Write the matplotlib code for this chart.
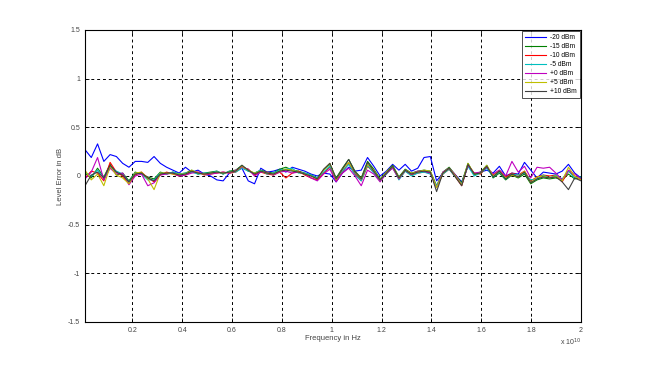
import numpy as np
import matplotlib
matplotlib.use("Agg")
import matplotlib.pyplot as plt
from matplotlib.ticker import FuncFormatter, MultipleLocator

plt.rcParams['font.family'] = ['Liberation Sans', 'DejaVu Sans']

# === Data: level error (dB) vs frequency ===
freq = np.linspace(0.01e10, 2.0e10, 80)

labels = ["-20 dBm", "-15 dBm", "-10 dBm", "-5 dBm", "+0 dBm", "+5 dBm", "+10 dBm"]

err_m20 = [0.27, 0.19, 0.33, 0.15, 0.22, 0.20, 0.13, 0.09, 0.15, 0.15,
           0.14, 0.20, 0.13, 0.09, 0.06, 0.03, 0.09, 0.04, 0.06, 0.02,
           0.00, -0.04, -0.05, 0.03, 0.05, 0.08, -0.05, -0.08, 0.08, 0.04,
           0.05, 0.07, 0.04, 0.09, 0.07, 0.05, 0.02, 0.00, 0.03, 0.02,
           -0.06, 0.03, 0.09, 0.05, 0.06, 0.19, 0.10, 0.00, 0.05, 0.12,
           0.06, 0.12, 0.05, 0.08, 0.19, 0.20, -0.05, 0.03, 0.08, 0.01,
           -0.06, 0.10, 0.02, 0.04, 0.06, 0.03, 0.10, 0.00, 0.03, 0.02,
           0.14, 0.06, -0.02, 0.04, 0.03, 0.02, 0.05, 0.12, 0.03, -0.02]

err_m15 = [0.03, -0.02, 0.08, -0.01, 0.12, 0.01, 0.03, -0.05, 0.04, 0.02,
           -0.01, -0.03, 0.04, 0.02, 0.04, 0.02, 0.03, 0.06, 0.02, 0.03,
           0.04, 0.05, 0.02, 0.05, 0.06, 0.11, 0.05, 0.03, 0.06, 0.04,
           0.03, 0.07, 0.09, 0.06, 0.05, 0.03, 0.01, -0.02, 0.06, 0.12,
           -0.02, 0.08, 0.17, 0.05, -0.02, 0.15, 0.07, -0.03, 0.04, 0.11,
           -0.01, 0.07, 0.03, 0.05, 0.06, 0.05, -0.10, 0.04, 0.09, 0.01,
           -0.07, 0.13, 0.01, 0.04, 0.11, -0.02, 0.03, -0.04, 0.01, -0.02,
           0.02, -0.08, -0.04, -0.02, -0.03, -0.02, -0.04, 0.02, -0.03, -0.02]

err_m10 = [-0.02, 0.05, 0.03, -0.05, 0.14, 0.04, 0.00, -0.08, 0.01, 0.04,
           -0.02, -0.06, 0.01, 0.04, 0.02, 0.00, 0.01, 0.04, 0.04, 0.01,
           0.02, 0.03, 0.04, 0.03, 0.04, 0.09, 0.07, 0.01, 0.04, 0.02,
           0.01, 0.04, -0.02, 0.03, 0.05, 0.01, -0.02, -0.04, 0.03, 0.09,
           -0.05, 0.04, 0.13, 0.02, -0.05, 0.10, 0.04, -0.05, 0.02, 0.09,
           -0.03, 0.05, 0.01, 0.03, 0.04, 0.03, -0.11, 0.02, 0.07, -0.01,
           -0.10, 0.11, 0.03, 0.02, 0.09, 0.01, 0.06, -0.01, 0.03, 0.01,
           0.05, -0.05, -0.01, 0.01, 0.00, 0.01, -0.06, 0.05, 0.00, -0.04]

err_m5 = [0.04, 0.00, 0.06, -0.02, 0.09, 0.05, 0.02, -0.06, 0.03, 0.02,
          -0.04, -0.04, 0.03, 0.02, 0.04, 0.02, 0.03, 0.04, 0.02, 0.03,
          0.03, 0.05, 0.02, 0.05, 0.04, 0.08, 0.05, 0.03, 0.06, 0.02,
          0.03, 0.06, 0.07, 0.08, 0.03, 0.03, 0.01, -0.02, 0.04, 0.10,
          -0.03, 0.05, 0.12, 0.01, -0.05, 0.11, 0.03, -0.05, 0.02, 0.09,
          -0.04, 0.05, 0.00, 0.03, 0.04, 0.02, -0.10, 0.02, 0.07, -0.01,
          -0.08, 0.10, 0.00, 0.03, 0.08, -0.01, 0.04, -0.03, 0.02, 0.01,
          0.03, -0.04, -0.03, 0.01, -0.02, 0.01, -0.03, 0.05, -0.02, -0.01]

err_p0 = [-0.03, 0.04, 0.19, -0.04, 0.08, 0.02, 0.03, -0.09, 0.00, 0.02,
          -0.10, -0.07, 0.01, 0.02, 0.03, 0.00, 0.01, 0.03, 0.04, 0.02,
          0.02, 0.03, 0.04, 0.03, 0.06, 0.09, 0.07, 0.00, 0.04, 0.04,
          0.01, 0.04, 0.05, 0.03, 0.04, 0.02, -0.02, -0.05, 0.02, 0.07,
          -0.06, 0.03, 0.08, 0.00, -0.10, 0.06, 0.02, -0.06, 0.03, 0.08,
          -0.03, 0.06, 0.02, 0.05, 0.05, 0.03, -0.12, 0.04, 0.08, 0.01,
          -0.09, 0.11, 0.03, 0.04, 0.09, 0.02, 0.06, 0.00, 0.15, 0.04,
          0.10, -0.02, 0.09, 0.08, 0.09, 0.03, -0.04, 0.06, 0.02, -0.03]

err_p5 = [0.06, -0.04, 0.02, -0.10, 0.10, 0.01, -0.02, -0.08, 0.03, 0.04,
          -0.03, -0.14, 0.03, 0.03, 0.02, 0.02, 0.02, 0.06, 0.03, 0.02,
          0.03, 0.04, 0.03, 0.04, 0.05, 0.10, 0.06, 0.03, 0.05, 0.03,
          0.02, 0.05, 0.07, 0.06, 0.04, 0.02, 0.00, -0.03, 0.06, 0.13,
          -0.04, 0.07, 0.14, 0.04, -0.03, 0.12, 0.06, -0.04, 0.04, 0.10,
          -0.02, 0.06, 0.03, 0.04, 0.06, 0.05, -0.12, 0.03, 0.08, 0.00,
          -0.09, 0.13, 0.02, 0.03, 0.11, 0.00, 0.05, -0.02, 0.01, -0.01,
          0.05, -0.07, -0.01, 0.00, -0.02, 0.00, -0.05, 0.09, 0.00, -0.04]

err_p10 = [-0.10, 0.01, 0.04, -0.02, 0.11, 0.04, 0.01, -0.06, 0.02, 0.03,
           -0.02, -0.05, 0.02, 0.03, 0.03, 0.01, 0.02, 0.05, 0.03, 0.02,
           0.03, 0.04, 0.03, 0.04, 0.05, 0.11, 0.06, 0.02, 0.05, 0.03,
           0.02, 0.05, 0.06, 0.05, 0.04, 0.02, 0.00, -0.03, 0.07, 0.13,
           -0.03, 0.07, 0.17, 0.04, -0.03, 0.14, 0.05, -0.04, 0.03, 0.10,
           -0.02, 0.06, 0.02, 0.04, 0.05, 0.04, -0.16, 0.03, 0.08, -0.01,
           -0.10, 0.12, 0.02, 0.03, 0.10, -0.01, 0.05, -0.03, 0.02, -0.01,
           0.04, -0.07, -0.03, -0.01, -0.02, -0.01, -0.06, -0.14, -0.02, -0.05]

series = [err_m20, err_m15, err_m10, err_m5, err_p0, err_p5, err_p10]
colors = [(0, 0, 1), (0, 0.5, 0), (1, 0, 0), (0, 0.75, 0.75),
          (0.75, 0, 0.75), (0.75, 0.75, 0), (0.25, 0.25, 0.25)]

# === Figure ===
fig = plt.figure(figsize=(6.45, 3.66), dpi=100)
ax = fig.add_axes([85/645, 1 - 322/366, 496/645, 292/366])

for vals, lab, col in zip(series, labels, colors):
    ax.plot(freq, vals, color=col, lw=0.8, label=lab)

ax.set_xlim(0.01e10, 2.0e10)
ax.set_ylim(-1.5, 1.5)
ax.xaxis.set_major_locator(MultipleLocator(0.2e10))
ax.yaxis.set_major_locator(MultipleLocator(0.5))
ax.xaxis.set_major_formatter(FuncFormatter(lambda v, p: "%g" % round(v / 1e10, 2)))
ax.yaxis.set_major_formatter(FuncFormatter(lambda v, p: "%g" % v))
ax.tick_params(direction='in', length=3, width=0.6, labelsize=5,
               top=True, right=True, colors='black', labelcolor='#444444')
for s in ax.spines.values():
    s.set_linewidth(0.8)

ax.grid(True, color='black', linestyle=(0, (3, 3)), linewidth=0.7)

ax.set_xlabel("Frequency in Hz", fontsize=5.5, color='#444444', labelpad=1)
ax.set_ylabel("Level Error in dB", fontsize=5.5, color='#444444', labelpad=3)
ax.text(1.0, -0.05, r"x 10$^{10}$", transform=ax.transAxes, ha='right',
        va='top', fontsize=5, color='#444444')

leg = ax.legend(loc='upper right', fontsize=4.8, frameon=True, fancybox=False,
                edgecolor='black', borderaxespad=0.2, handlelength=3.2,
                handletextpad=0.6, labelspacing=0.3, borderpad=0.45)
leg.get_frame().set_linewidth(0.6)

fig.savefig("out.png", dpi=100)
